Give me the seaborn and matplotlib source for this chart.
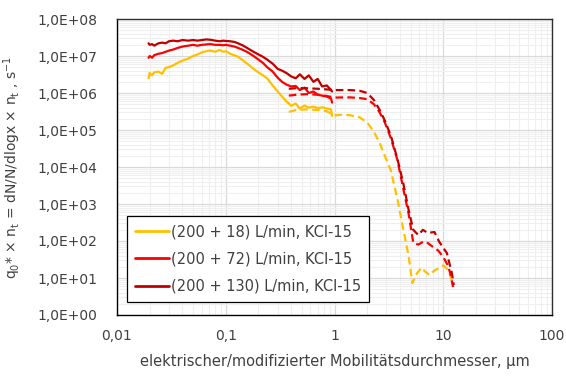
import numpy as np
import pandas as pd
import matplotlib
matplotlib.use("Agg")
import matplotlib.pyplot as plt
import seaborn as sns
from matplotlib.ticker import LogLocator, FuncFormatter, NullFormatter

# ---------------- data ----------------
labels = ["(200 + 18) L/min, KCl-15", "(200 + 72) L/min, KCl-15", "(200 + 130) L/min, KCl-15"]
colors = ["#FFC000", "#FF0000", "#C00000"]

x_smps = [0.0195, 0.020, 0.021, 0.022, 0.024, 0.026, 0.028, 0.030, 0.033, 0.036, 0.040,
          0.045, 0.050, 0.055, 0.060, 0.066, 0.072, 0.080, 0.088, 0.095, 0.100, 0.110,
          0.120, 0.130, 0.145, 0.160, 0.180, 0.200, 0.220, 0.240, 0.270, 0.300, 0.330,
          0.360, 0.400, 0.440, 0.480, 0.530, 0.580, 0.640, 0.700, 0.770, 0.850, 0.930, 0.950]
y_smps_18 = [2.5e6, 3.5e6, 3.0e6, 3.6e6, 3.8e6, 3.3e6, 4.8e6, 5.0e6, 5.6e6, 6.5e6, 7.5e6,
             8.5e6, 1.0e7, 1.1e7, 1.25e7, 1.35e7, 1.4e7, 1.3e7, 1.45e7, 1.3e7, 1.35e7, 1.15e7,
             1.05e7, 9.5e6, 7.5e6, 6.0e6, 4.5e6, 3.6e6, 3.0e6, 2.5e6, 1.6e6, 1.1e6, 8.0e5,
             6.0e5, 4.5e5, 5.2e5, 3.8e5, 4.6e5, 4.0e5, 4.3e5, 3.9e5, 4.1e5, 3.8e5, 3.6e5, 2.4e5]
y_smps_72 = [9.0e6, 1.0e7, 9.0e6, 1.05e7, 1.15e7, 1.2e7, 1.3e7, 1.4e7, 1.5e7, 1.65e7, 1.8e7,
             1.9e7, 2.0e7, 1.9e7, 2.0e7, 2.05e7, 2.1e7, 2.0e7, 2.0e7, 1.95e7, 2.0e7, 1.9e7,
             1.8e7, 1.65e7, 1.45e7, 1.25e7, 1.0e7, 8.0e6, 6.5e6, 5.0e6, 3.8e6, 2.6e6, 2.0e6,
             1.7e6, 1.5e6, 1.55e6, 1.2e6, 1.4e6, 1.0e6, 1.1e6, 9.0e5, 8.5e5, 8.0e5, 7.0e5, 5.5e5]
y_smps_130 = [2.2e7, 2.0e7, 2.1e7, 1.9e7, 2.2e7, 2.3e7, 2.2e7, 2.5e7, 2.6e7, 2.5e7, 2.7e7,
              2.6e7, 2.7e7, 2.6e7, 2.7e7, 2.8e7, 2.75e7, 2.6e7, 2.5e7, 2.6e7, 2.55e7, 2.5e7,
              2.4e7, 2.2e7, 1.9e7, 1.6e7, 1.3e7, 1.1e7, 9.5e6, 8.0e6, 6.2e6, 4.5e6, 4.0e6,
              3.5e6, 2.8e6, 2.5e6, 3.2e6, 2.4e6, 3.0e6, 2.0e6, 2.4e6, 1.5e6, 1.6e6, 1.2e6, 1.1e6]

x_aps_18 = [0.38, 0.45, 0.55, 0.70, 0.85, 1.0, 1.2, 1.4, 1.7, 2.0, 2.3, 2.6, 2.9, 3.3, 3.8,
            4.3, 4.8, 5.2, 5.7, 6.3, 6.8, 7.5, 8.3, 9.0, 10.0, 11.2, 12.4]
y_aps_18 = [3.1e5, 3.5e5, 3.6e5, 3.5e5, 3.2e5, 2.5e5, 2.6e5, 2.5e5, 2.2e5, 1.6e5, 9.0e4,
            4.5e4, 2.0e4, 8.0e3, 1.3e3, 2.0e2, 4.0e1, 7.3, 13.0, 19.0, 15.0, 12.0, 16.0,
            18.0, 22.0, 16.0, 6.5]

x_aps_72 = [0.38, 0.45, 0.55, 0.70, 0.85, 1.0, 1.2, 1.4, 1.7, 2.0, 2.3, 2.6, 2.9, 3.3, 3.8,
            4.3, 4.8, 5.3, 5.9, 6.5, 7.0, 8.0, 9.0, 10.0, 11.0, 11.6, 12.3]
y_aps_72 = [8.5e5, 9.0e5, 9.3e5, 9.0e5, 8.3e5, 7.5e5, 7.6e5, 7.6e5, 7.3e5, 6.8e5, 5.0e5,
            3.0e5, 1.6e5, 6.0e4, 1.5e4, 2.5e3, 5.5e2, 90.0, 80.0, 95.0, 94.0, 70.0, 55.0,
            37.0, 22.0, 13.6, 5.7]

x_aps_130 = [0.38, 0.45, 0.55, 0.70, 0.85, 1.0, 1.2, 1.4, 1.7, 2.0, 2.3, 2.6, 2.9, 3.3, 3.8,
             4.3, 4.8, 5.3, 5.9, 6.5, 7.2, 8.3, 9.2, 10.8, 12.0, 12.5]
y_aps_130 = [1.3e6, 1.35e6, 1.35e6, 1.3e6, 1.25e6, 1.2e6, 1.2e6, 1.2e6, 1.15e6, 1.0e6, 6.5e5,
             3.5e5, 1.8e5, 7.0e4, 1.6e4, 3.5e3, 7.0e2, 2.0e2, 1.45e2, 2.0e2, 1.65e2, 1.75e2,
             94.0, 47.0, 13.6, 6.5]

y_ticks = [1e0, 1e1, 1e2, 1e3, 1e4, 1e5, 1e6, 1e7, 1e8]
x_ticks = [0.01, 0.1, 1, 10, 100]
x_ticklabels = ["0,01", "0,1", "1", "10", "100"]

# ---------------- figure ----------------
sns.set_theme(style="white")
plt.rcParams["font.family"] = ["DejaVu Sans"]
plt.rcParams["mathtext.fontset"] = "dejavusans"
txt = "#404040"

fig = plt.figure(figsize=(5.66, 3.78), dpi=100)
ax = fig.add_axes([117/566, 63/378, 435/566, 296/378])

smps = [(x_smps, y_smps_18), (x_smps, y_smps_72), (x_smps, y_smps_130)]
aps = [(x_aps_18, y_aps_18), (x_aps_72, y_aps_72), (x_aps_130, y_aps_130)]

LW = 1.6
for (xs, ys), lab, c in zip(smps, labels, colors):
    df = pd.DataFrame({"x": xs, "y": ys})
    sns.lineplot(data=df, x="x", y="y", ax=ax, color=c, lw=LW, label=lab,
                 sort=False, estimator=None)
for (xs, ys), c in zip(aps, colors):
    df = pd.DataFrame({"x": xs, "y": ys})
    sns.lineplot(data=df, x="x", y="y", ax=ax, color=c, lw=LW, sort=False,
                 estimator=None, linestyle=(0, (3.4, 1.9)), label="_nolegend_")

ax.set_xscale("log")
ax.set_yscale("log")
ax.set_xlim(0.01, 100)
ax.set_ylim(1, 1e8)

ax.set_xticks(x_ticks)
ax.set_xticklabels(x_ticklabels)
ax.xaxis.set_minor_locator(LogLocator(base=10, subs=np.arange(2, 10), numticks=50))
ax.xaxis.set_minor_formatter(NullFormatter())
ax.set_yticks(y_ticks)
ax.yaxis.set_major_formatter(FuncFormatter(lambda v, p: ("%.1E" % v).replace(".", ",")))
ax.yaxis.set_minor_locator(LogLocator(base=10, subs=np.arange(2, 10), numticks=50))
ax.yaxis.set_minor_formatter(NullFormatter())

ax.grid(which="major", color="#d9d9d9", lw=0.9)
ax.grid(which="minor", color="#efefef", lw=0.8)
ax.set_axisbelow(True)

ax.tick_params(which="major", direction="in", length=4, width=0.9, color="black",
               labelsize=10, labelcolor=txt)
ax.tick_params(which="minor", direction="in", length=2.5, width=0.7, color="black")
ax.tick_params(axis="y", which="major", pad=14)
ax.tick_params(axis="x", which="major", pad=10)
ax.tick_params(top=False, right=False, which="both")

for s in ax.spines.values():
    s.set_color("#303030")
    s.set_linewidth(1.0)
ax.spines["left"].set_color("black")
ax.spines["bottom"].set_color("black")

ax.set_xlabel("elektrischer/modifizierter Mobilitätsdurchmesser, µm", fontsize=10.5,
              color=txt, labelpad=8)
ax.set_ylabel(r"q$_0$* × n$_\mathregular{t}$ = dN/N/dlogx × n$_\mathregular{t}$ , s$^{-1}$",
              fontsize=10, color=txt)
ax.yaxis.set_label_coords(-0.215, 0.5)

handles, labs = ax.get_legend_handles_labels()
leg = ax.legend(handles[:3], labs[:3], loc="lower left", bbox_to_anchor=(0.023, 0.044),
                borderaxespad=0, frameon=True, fancybox=False, fontsize=10.5,
                labelspacing=0.85, handlelength=2.3, handletextpad=0.15,
                borderpad=0.55, labelcolor=txt)
leg.get_frame().set_edgecolor("black")
leg.get_frame().set_linewidth(0.9)
leg.get_frame().set_alpha(1)
for lh in leg.get_lines():
    lh.set_linewidth(2.0)

fig.savefig("out.png", dpi=100)
